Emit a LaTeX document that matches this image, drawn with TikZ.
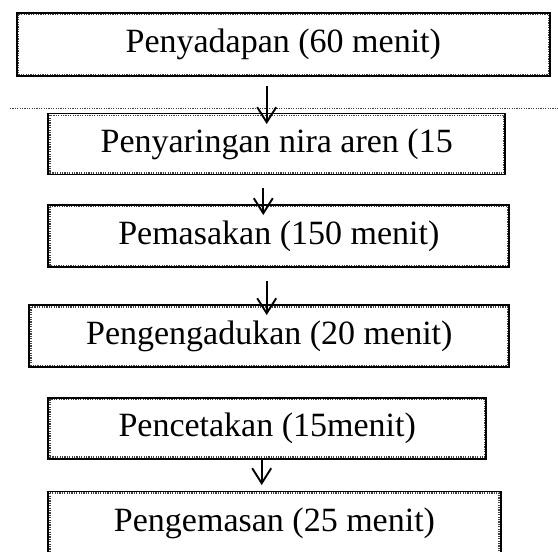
\documentclass[tikz,border=0pt]{standalone}
\usepackage{fontspec}
\setmainfont{Liberation Serif}
\usetikzlibrary{arrows.meta}
\begin{document}
\begin{tikzpicture}[x=1pt,y=-1pt,
  procbox/.style={draw=black, line width=1.9pt, inner sep=0pt, fill=white,
    font=\fontsize{34}{40}\selectfont, text=black},
  innerdots/.style={draw=black!75, line width=1.3pt, dash pattern=on 1.2pt off 1.2pt},
  flowarrow/.style={draw=black, line width=1.7pt,
    -{Straight Barb[length=15pt,width=19pt,line width=1.9pt]}}]
\useasboundingbox (0,0) rectangle (558,552);
\fill[white] (0,0) rectangle (558,552);
% dotted separator line
\draw[black!75, line width=1.2pt, dash pattern=on 1.2pt off 1.2pt] (10,108.7) -- (558,108.7);
% boxes
\node[procbox, minimum width=533.3pt, minimum height=63.3pt] (A) at (283.3,44.3) {Penyadapan (60 menit)};
\node[procbox, minimum width=456.7pt, minimum height=61pt] (B) at (276.7,144) {Penyaringan nira aren (15};
\node[procbox, minimum width=461pt, minimum height=62pt] (C) at (278.8,236) {Pemasakan (150 menit)};
\node[procbox, minimum width=480pt, minimum height=61.7pt] (D) at (269.3,336.2) {Pengengadukan (20 menit)};
\node[procbox, minimum width=437.7pt, minimum height=61pt] (E) at (267.2,428.2) {Pencetakan (15menit)};
\node[procbox, minimum width=452.4pt, minimum height=63.5pt] (F) at (274.5,523.2) {Pengemasan (25 menit)};
\foreach \n in {A,B,C,D,E,F}{
  \draw[innerdots] ([shift={(2.6pt,-2.6pt)}]\n.north west) rectangle ([shift={(-2.6pt,2.6pt)}]\n.south east);
}
% arrows
\coordinate (a1s) at (266.7,86);  \coordinate (a1e) at (266.7,124);
\coordinate (a2s) at (263.3,188); \coordinate (a2e) at (263.3,215);
\coordinate (a3s) at (266.7,281); \coordinate (a3e) at (266.7,315);
\coordinate (a5s) at (261.7,459); \coordinate (a5e) at (261.7,485);
\draw[flowarrow] (a1s) -- (a1e);
\draw[flowarrow] (a2s) -- (a2e);
\draw[flowarrow] (a3s) -- (a3e);
\draw[flowarrow] (a5s) -- (a5e);
\end{tikzpicture}
\end{document}
